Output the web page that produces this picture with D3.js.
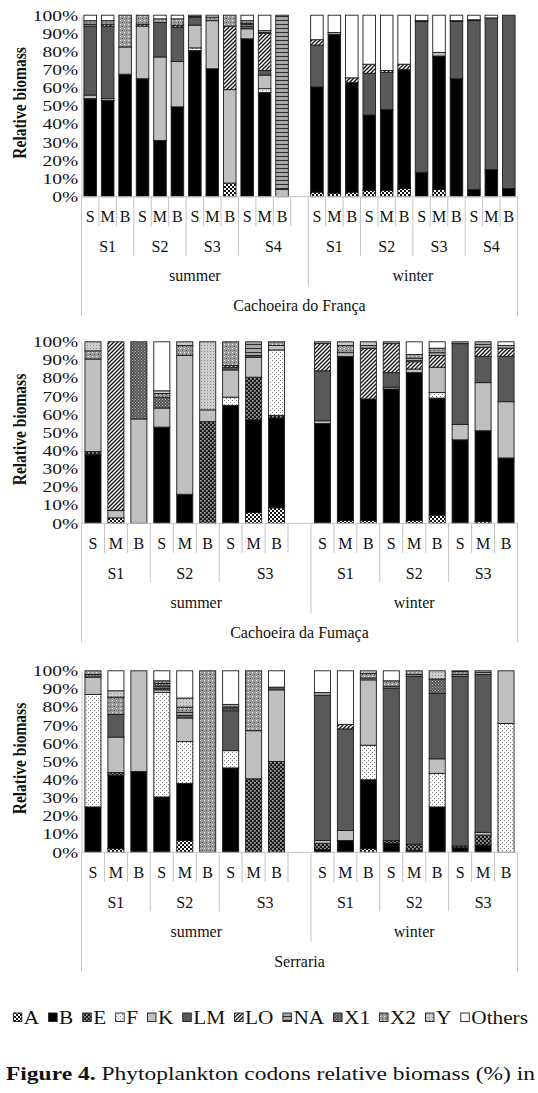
<!DOCTYPE html>
<html>
<head>
<meta charset="utf-8">
<script src="https://cdn.jsdelivr.net/npm/d3@7"></script>
<style>
  html, body { margin: 0; padding: 0; background: #fff; }
  svg { display: block; }
</style>
</head>
<body>
<svg id="fig" width="538" height="1093"></svg>
<script>
// Codon groups, stacked bottom to top in this order
const codons = ["A", "B", "E", "F", "K", "LM", "LO", "NA", "X1", "X2", "Y", "Others"];
const depths = ["S", "M", "B"];
const seasons = ["summer", "winter"];
const tickVals = [0, 10, 20, 30, 40, 50, 60, 70, 80, 90, 100];

// Cachoeira do França — sites S1..S4, each S/M/B; values follow codon order
const francaSites = ["S1", "S2", "S3", "S4"];
const francaSummer = [
  [0, 54, 0, 0, 2, 38, 0, 1, 0, 2, 0, 3],
  [0, 53, 0, 0, 1, 40, 1, 0, 0, 2, 0, 3],
  [0, 67.5, 0, 0, 15, 0, 0, 0, 0, 17.5, 0, 0],
  [0, 65, 0, 0, 29, 0, 1, 0, 0, 5, 0, 0],
  [0, 31, 0, 0, 46, 19, 0, 0, 0, 2, 0, 2],
  [0, 49.5, 0, 0, 25, 19, 1, 0, 0, 3.5, 0, 2],
  [0, 80.5, 0, 1.5, 12.5, 4.5, 0, 1, 0, 0, 0, 0],
  [0, 70.5, 0, 0, 26.5, 0, 0, 0, 0, 2, 0, 1],
  [7.5, 0, 0, 0, 51.5, 0, 35, 0, 0, 6, 0, 0],
  [0, 87, 0, 0, 5.5, 1.5, 0, 1.5, 0, 1.5, 0, 3],
  [0, 57.5, 0, 2, 7.5, 2.5, 20.5, 1.5, 0, 0, 0, 8.5],
  [0, 0, 0, 0, 4, 0, 0, 96, 0, 0, 0, 0]
];
const francaWinter = [
  [2.5, 58, 0, 0, 0, 23, 3, 0, 0, 0, 0, 13.5],
  [2, 87.5, 0, 0, 1, 0, 0, 0, 0, 0, 0, 9.5],
  [2.5, 60.5, 0, 0, 0, 0, 2.5, 0, 0, 0, 0, 34.5],
  [3.5, 41.5, 0, 0, 0, 23, 5, 0, 0, 0, 0, 27],
  [3.5, 44.5, 0, 0, 0, 20.5, 1, 0, 0, 0, 0, 30.5],
  [4.5, 65.5, 0, 0, 0, 0, 3, 0, 0, 0, 0, 27],
  [0, 13.5, 0, 0, 0, 83, 0.5, 0, 0, 0, 0, 3],
  [4, 73.5, 0, 0, 2, 0, 0, 0, 0, 0, 0, 20.5],
  [0, 65, 0, 0, 0, 31.5, 0.5, 0, 0, 0, 0, 3],
  [0, 4, 0, 0, 0, 93, 0.5, 0, 0, 0, 0, 2.5],
  [0, 15, 0, 0, 0, 83.5, 0, 0, 0, 0, 0, 1.5],
  [0, 4.5, 0, 0, 0, 95.5, 0, 0, 0, 0, 0, 0]
];

// Cachoeira da Fumaça — sites S1..S3
const fumacaSites = ["S1", "S2", "S3"];
const fumacaSummer = [
  [0, 38, 1.5, 0, 51, 0, 0, 0, 0, 4.5, 5, 0],
  [3, 0, 0, 0, 4, 0, 93, 0, 0, 0, 0, 0],
  [0, 0, 0, 0, 57.5, 0, 0, 0, 42.5, 0, 0, 0],
  [0, 53, 0, 0, 10.5, 0, 0, 0, 6, 2, 1.5, 27],
  [0, 16, 0, 0, 76.5, 0, 0, 0, 0, 5.5, 2, 0],
  [0, 0, 56, 0, 6.5, 0, 0, 0, 0, 0, 37.5, 0],
  [0, 65, 0, 4.5, 15, 1.5, 1, 0, 0, 13, 0, 0],
  [6, 51, 23.5, 0, 11, 1, 0, 7.5, 0, 0, 0, 0],
  [8.5, 49.5, 1.5, 36, 2.5, 0, 0, 0, 0, 2, 0, 0]
];
const fumacaWinter = [
  [0, 55, 0, 0, 1.5, 27.5, 15, 1, 0, 0, 0, 0],
  [1.5, 90.5, 0, 0, 2, 0, 0, 0, 0, 4, 2, 0],
  [1.5, 67, 0, 0, 0, 0, 28, 1.5, 0, 0, 2, 0],
  [0, 74, 0, 0, 1, 8, 16, 1, 0, 0, 0, 0],
  [1.5, 81.5, 0, 0, 2, 0, 4, 2, 0, 2, 0, 7],
  [4.5, 64.5, 0, 3, 14, 0, 6.5, 1.5, 0, 2.5, 0, 3.5],
  [0, 46, 0, 0, 8.5, 44.5, 0, 1, 0, 0, 0, 0],
  [1, 50, 0, 0, 26.5, 14.5, 5, 3, 0, 0, 0, 0],
  [0, 36, 0, 0, 31, 25, 4.5, 1.5, 0, 0, 0, 2]
];

// Serraria — sites S1..S3
const serrariaSites = ["S1", "S2", "S3"];
const serrariaSummer = [
  [0, 25, 0, 62, 9.5, 0, 0, 0, 1.5, 2, 0, 0],
  [2, 40.5, 1.5, 0, 19.5, 12.5, 0, 0, 0, 9.5, 3.5, 11],
  [0, 44.5, 0, 0, 55.5, 0, 0, 0, 0, 0, 0, 0],
  [0, 30.5, 0, 57.5, 1.5, 1, 0, 1, 1.5, 1.5, 0, 5.5],
  [6.5, 31.5, 0, 23, 13, 1.5, 0, 1.5, 0, 3, 5, 15],
  [0, 0, 0, 0, 0, 0, 0, 0, 0, 100, 0, 0],
  [0, 46.5, 0, 9.5, 0, 22, 0, 1, 1, 1.5, 0, 18.5],
  [0, 0, 40.5, 0, 26.5, 0, 0, 0, 0, 33, 0, 0],
  [0, 0, 50, 0, 39.5, 1.5, 0, 0, 0, 0, 0, 9]
];
const serrariaWinter = [
  [0, 1.5, 3.5, 0, 1.5, 80, 0, 1.5, 0, 0, 0, 12],
  [0, 6.5, 0, 0, 5.5, 56, 2.5, 0, 0, 0, 0, 29.5],
  [2, 38, 0, 19, 36, 0, 0, 1, 0, 2.5, 1.5, 0],
  [0, 5, 1.5, 0, 0, 84, 0, 1, 0, 3, 0, 5.5],
  [0, 1, 3.5, 0, 0, 92.5, 0, 1, 0, 2, 0, 0],
  [0, 25, 0, 18.5, 8, 36, 0, 0, 8, 0, 4.5, 0],
  [0, 2.5, 1, 0, 0, 93.5, 0, 1, 0, 1.5, 0, 0.5],
  [0, 4, 5.5, 0, 1.5, 87, 0, 2, 0, 0, 0, 0],
  [0, 0, 0, 71, 29, 0, 0, 0, 0, 0, 0, 0]
];

const serif = "'Liberation Serif', 'Times New Roman', serif";
const svg = d3.select("#fig");
const defs = svg.append("defs");

// ---- fill patterns for the codon groups ----
function pattern(id, w, h, build) {
  const p = defs.append("pattern").attr("id", id)
    .attr("patternUnits", "userSpaceOnUse").attr("width", w).attr("height", h);
  build(p);
}
function dots(p, color, pts, s) {
  pts.forEach(([px, py]) => p.append("rect").attr("x", px).attr("y", py)
    .attr("width", s).attr("height", s).attr("fill", color));
}
pattern("pA", 4, 4, p => {
  p.append("rect").attr("width", 4).attr("height", 4).attr("fill", "#111");
  dots(p, "#fff", [[0, 0], [2, 2]], 2);
});
pattern("pE", 4, 4, p => {
  p.append("rect").attr("width", 4).attr("height", 4).attr("fill", "#1a1a1a");
  dots(p, "#e6e6e6", [[0.2, 0.2], [2.2, 2.2]], 1.4);
});
pattern("pF", 4, 4, p => {
  p.append("rect").attr("width", 4).attr("height", 4).attr("fill", "#fff");
  dots(p, "#7a7a7a", [[0, 0], [2, 2]], 1);
});
pattern("pLO", 4, 4, p => {
  p.append("rect").attr("width", 4).attr("height", 4).attr("fill", "#fff");
  p.append("path").attr("d", "M-1,1 l2,-2 M0,4 l4,-4 M3,5 l2,-2")
    .attr("stroke", "#111").attr("stroke-width", 1.3);
});
pattern("pNA", 4, 4, p => {
  p.append("rect").attr("width", 4).attr("height", 4).attr("fill", "#a8a8a8");
  p.append("rect").attr("width", 4).attr("height", 1).attr("fill", "#2a2a2a");
});
pattern("pX1", 3, 3, p => {
  p.append("rect").attr("width", 3).attr("height", 3).attr("fill", "#555");
  dots(p, "#b0b0b0", [[0, 0], [1.5, 1.5]], 1);
});
pattern("pX2", 4, 4, p => {
  p.append("rect").attr("width", 4).attr("height", 4).attr("fill", "#9c9c9c");
  dots(p, "#f0f0f0", [[0, 0]], 1);
  dots(p, "#444", [[2, 2]], 1);
});
pattern("pY", 3, 3, p => {
  p.append("rect").attr("width", 3).attr("height", 3).attr("fill", "#cdcdcd");
  dots(p, "#8a8a8a", [[0, 0]], 1);
});

const fills = {
  A: "url(#pA)", B: "#000", E: "url(#pE)", F: "url(#pF)", K: "#bfbfbf",
  LM: "#595959", LO: "url(#pLO)", NA: "url(#pNA)", X1: "url(#pX1)",
  X2: "url(#pX2)", Y: "url(#pY)", Others: "#fff"
};

// ---- layout ----
const plotL = 81.5, plotR = 517.5, plotH = 181.5;
const rowLine = [29.5, 59, 89.5, 119];   // depth of separators per axis level
const rowText = [20, 50, 79, 109];       // label centre per axis level
const axisGrey = "#c4c4c4";

const panels = [
  { name: "Cachoeira do França", sites: francaSites, summer: francaSummer, winter: francaWinter, base: 196.7, pad: 0.28 },
  { name: "Cachoeira da Fumaça", sites: fumacaSites, summer: fumacaSummer, winter: fumacaWinter, base: 523.3, pad: 0.3 },
  { name: "Serraria", sites: serrariaSites, summer: serrariaSummer, winter: serrariaWinter, base: 852.3, pad: 0.3 }
];

function drawPanel(p) {
  const keys = [], rows = [];
  seasons.forEach(season => {
    const vals = p[season];
    p.sites.forEach((site, si) => {
      depths.forEach((d, di) => {
        const row = { key: `${season}|${site}|${d}`, season, site, depth: d };
        codons.forEach((c, ci) => row[c] = vals[si * 3 + di][ci]);
        rows.push(row);
        keys.push(row.key);
      });
    });
    if (season === "summer") keys.push(`summer|${p.sites[p.sites.length - 1]}|`);
  });

  const x = d3.scaleBand().domain(keys).range([plotL, plotR])
    .paddingInner(p.pad).paddingOuter(p.pad / 2);
  const y = d3.scaleLinear().domain([0, 100]).range([p.base, p.base - plotH]);
  const g = svg.append("g");

  // stacked bars
  const series = d3.stack().keys(codons)(rows);
  series.forEach(s => {
    g.append("g").selectAll("rect")
      .data(s.filter(d => d[1] - d[0] > 0))
      .join("rect")
      .attr("x", d => x(d.data.key))
      .attr("width", x.bandwidth())
      .attr("y", d => y(d[1]))
      .attr("height", d => y(d[0]) - y(d[1]))
      .attr("fill", fills[s.key])
      .attr("stroke", "#1c1c1c")
      .attr("stroke-width", 0.9);
  });

  // value axis
  const ya = g.append("g").attr("transform", `translate(${plotL},0)`)
    .call(d3.axisLeft(y).tickValues(tickVals).tickFormat(d => d + "%")
      .tickSize(0).tickSizeOuter(0).tickPadding(2.5));
  ya.select(".domain").attr("stroke", axisGrey);
  ya.selectAll("text").attr("font-family", serif).attr("font-size", 15)
    .attr("fill", "#111").attr("transform", "scale(1.3,1)");

  // baseline
  g.append("line").attr("x1", plotL).attr("x2", plotR)
    .attr("y1", y(0)).attr("y2", y(0)).attr("stroke", axisGrey);

  // axis title
  const mid = (y(0) + y(100)) / 2 - 3;
  g.append("text").attr("transform", `translate(20,${mid}) scale(1.2,1) rotate(-90)`)
    .attr("text-anchor", "middle").attr("dominant-baseline", "central")
    .attr("font-family", serif).attr("font-weight", "bold").attr("font-size", 15.5)
    .attr("fill", "#111").text("Relative biomass");

  // multi-level category axis: separators
  const step = x.step();
  const parts = keys.map(k => k.split("|"));
  for (let i = 0; i <= keys.length; i++) {
    let depth;
    if (i === 0 || i === keys.length) depth = rowLine[3];
    else if (parts[i - 1][0] !== parts[i][0]) depth = rowLine[2];
    else if (parts[i - 1][1] !== parts[i][1]) depth = rowLine[1];
    else depth = rowLine[0];
    const xx = plotL + i * step;
    g.append("line").attr("x1", xx).attr("x2", xx)
      .attr("y1", p.base).attr("y2", p.base + depth)
      .attr("stroke", axisGrey).attr("stroke-width", 1);
  }

  const label = (txt, cx, lvl) => g.append("text")
    .attr("x", cx).attr("y", p.base + rowText[lvl])
    .attr("text-anchor", "middle").attr("dominant-baseline", "central")
    .attr("font-family", serif).attr("font-size", 16).attr("fill", "#111").text(txt);

  // level 1: depth labels
  keys.forEach((k, i) => { if (parts[i][2]) label(parts[i][2], x(k) + x.bandwidth() / 2, 0); });
  // level 2: sites
  const siteGroups = d3.groups(keys.map((k, i) => ({ k, i, p: parts[i] })), d => d.p[0] + "|" + d.p[1]);
  siteGroups.forEach(([gk, items]) => {
    const a = items[0].i, b = items[items.length - 1].i + 1;
    label(items[0].p[1], plotL + (a + b) / 2 * step, 1);
  });
  // level 3: seasons
  const seasonGroups = d3.groups(keys.map((k, i) => ({ i, s: parts[i][0] })), d => d.s);
  seasonGroups.forEach(([s, items]) => {
    const a = items[0].i, b = items[items.length - 1].i + 1;
    label(s, plotL + (a + b) / 2 * step, 2);
  });
  // level 4: location
  label(p.name, (plotL + plotR) / 2, 3);
}

panels.forEach(drawPanel);

// ---- legend ----
const leg = svg.append("g");
const legFont = 18.5, legStretch = 1.15, sq = 8.5;
const items = codons.map(c => {
  const t = leg.append("text").attr("font-family", serif).attr("font-size", legFont)
    .attr("fill", "#111").attr("y", 1024).text(c);
  const w = t.node().getComputedTextLength() * legStretch;
  t.attr("textLength", w).attr("lengthAdjust", "spacingAndGlyphs");
  return { c, t, w };
});
const legL = 13.3, legR = 528;
const natural = d3.sum(items, d => sq + 2 + d.w);
const gap = (legR - legL - natural) / (items.length - 1);
let cx = legL;
items.forEach(d => {
  leg.append("rect").attr("x", cx).attr("y", 1013).attr("width", sq).attr("height", sq)
    .attr("fill", fills[d.c]).attr("stroke", "#1c1c1c").attr("stroke-width", 0.9);
  d.t.attr("x", cx + sq + 2);
  cx += sq + 2 + d.w + gap;
});

// ---- caption ----
const cap = svg.append("text").attr("x", 6).attr("y", 1080)
  .attr("font-family", serif).attr("font-size", 19.5).attr("fill", "#111")
  .attr("textLength", 529).attr("lengthAdjust", "spacingAndGlyphs");
cap.append("tspan").attr("font-weight", "bold").text("Figure 4.");
cap.append("tspan").text(" Phytoplankton codons relative biomass (%) in");
</script>
</body>
</html>
